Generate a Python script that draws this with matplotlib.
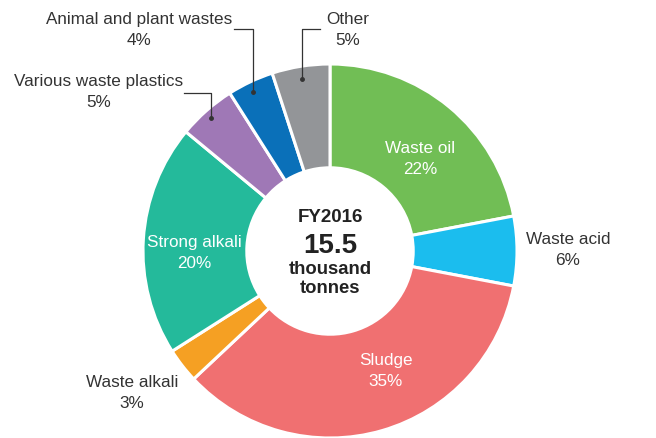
import matplotlib.pyplot as plt

labels = ["Waste oil", "Waste acid", "Sludge", "Waste alkali", "Strong alkali",
          "Various waste plastics", "Animal and plant wastes", "Other"]
shares = [22, 6, 35, 3, 20, 5, 4, 5]
colors = ["#71be55", "#1bbdee", "#f07071", "#f5a023", "#24ba9b",
          "#9f78b6", "#0a70b9", "#939598"]

plt.rcParams['font.family'] = ['Liberation Sans', 'DejaVu Sans']

fig = plt.figure(figsize=(6.56, 4.38), dpi=100)
ax = fig.add_axes([0, 0, 1, 1])
ax.set_xlim(0, 656)
ax.set_ylim(0, 438)
ax.set_aspect('equal')
ax.axis('off')

cx, cy, r = 330, 187, 187
ax.pie(shares, colors=colors, startangle=90, counterclock=False,
       center=(cx, cy), radius=r,
       wedgeprops=dict(width=r * 0.555, edgecolor='white', linewidth=2.2))
ax.set_xlim(0, 656)
ax.set_ylim(0, 438)

txt = '#333333'
fs = 12.3
ls = 1.45
# labels inside the ring (white)
ax.text(420, 438 - 159, "Waste oil\n22%", color='white', fontsize=fs,
        ha='center', va='center', linespacing=ls)
ax.text(386, 438 - 371, "Sludge\n35%", color='white', fontsize=fs,
        ha='center', va='center', linespacing=ls)
ax.text(194, 438 - 253, "Strong alkali\n20%", color='white', fontsize=fs,
        ha='center', va='center', linespacing=ls)
# outside labels
ax.text(568, 438 - 250, "Waste acid\n6%", color=txt, fontsize=fs,
        ha='center', va='center', linespacing=ls)
ax.text(132, 438 - 393, "Waste alkali\n3%", color=txt, fontsize=fs,
        ha='center', va='center', linespacing=ls)
ax.text(99, 438 - 92, "Various waste plastics\n5%", color=txt, fontsize=fs,
        ha='center', va='center', linespacing=ls)
ax.text(139, 438 - 30, "Animal and plant wastes\n4%", color=txt, fontsize=fs,
        ha='center', va='center', linespacing=ls)
ax.text(348, 438 - 30, "Other\n5%", color=txt, fontsize=fs,
        ha='center', va='center', linespacing=ls)

# leader lines
lc = '#333333'
ax.plot([184, 211, 211], [438 - 93, 438 - 93, 438 - 118], color=lc, lw=0.9)
ax.plot([211], [438 - 118], 'o', color=lc, ms=2.5)
ax.plot([234, 253, 253], [438 - 29, 438 - 29, 438 - 92], color=lc, lw=0.9)
ax.plot([253], [438 - 92], 'o', color=lc, ms=2.5)
ax.plot([320, 302, 302], [438 - 29, 438 - 29, 438 - 79], color=lc, lw=0.9)
ax.plot([302], [438 - 79], 'o', color=lc, ms=2.5)

# centre text
ax.text(cx, 438 - 217, "FY2016", color='#222222', fontsize=13.5,
        fontweight='bold', ha='center', va='center')
ax.text(cx, 438 - 246, "15.5", color='#222222', fontsize=20,
        fontweight='bold', ha='center', va='center')
ax.text(cx, 438 - 279, "thousand\ntonnes", color='#222222', fontsize=13.3,
        fontweight='bold', ha='center', va='center', linespacing=1.1)

fig.savefig("out.png", dpi=100)
